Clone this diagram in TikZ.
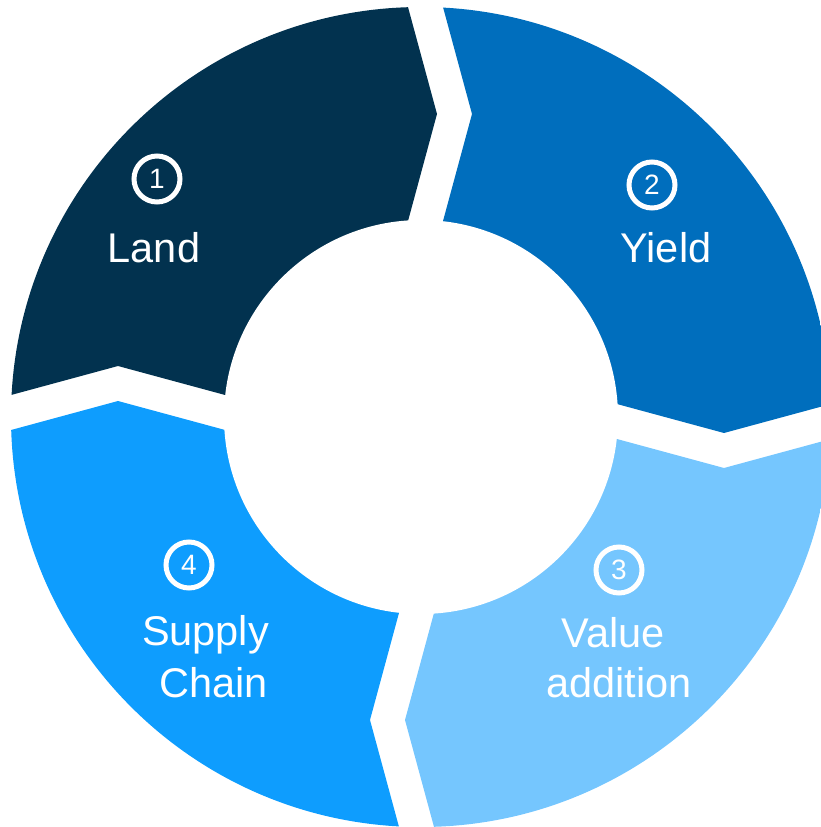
\documentclass[tikz,border=0pt]{standalone}
\usepackage{fontspec}
\setmainfont{Liberation Sans}
\definecolor{cLand}{HTML}{02324F}
\definecolor{cYield}{HTML}{006EBD}
\definecolor{cValue}{HTML}{75C6FE}
\definecolor{cSupply}{HTML}{0E9DFE}
\tikzset{
  numring/.style={circle,draw=white,line width=5pt,minimum size=46pt,inner sep=0pt,
    text=white,font=\fontsize{28}{32}\selectfont},
  lbl/.style={anchor=base,text=white,inner sep=0pt,font=\fontsize{41.5}{48}\selectfont}
}
\begin{document}
\begin{tikzpicture}[x=1pt,y=1pt]
\useasboundingbox (-421,-410) rectangle (399,417);
\begin{scope}
  \clip (0,0) circle (410);
  \foreach \ang/\col in {0/cYield,-90/cValue,-180/cSupply,90/cLand}{
    \fill[\col,rotate=\ang] (0,0) -- (20.4,190) -- (51,303) -- (5.7,470) -- (470,470)
      -- (470,29.3) -- (303,-16) -- (190,14.6) -- cycle;
  }
\end{scope}
\fill[white] (0,0) circle (197);
% labels
\node[numring] (n1) at (-264,238) {1};
\node[lbl] (land) at (-267,154) {Land};
\node[numring] (n2) at (231,232) {2};
\node[lbl] (yield) at (245,154) {Yield};
\node[numring] (n3) at (198,-153) {3};
\node[lbl] (value1) at (192,-230) {Value};
\node[lbl] (value2) at (198,-280) {addition};
\node[numring] (n4) at (-232,-148) {4};
\node[lbl] (supply1) at (-215.5,-228) {Supply};
\node[lbl] (supply2) at (-207.5,-280) {Chain};
\end{tikzpicture}
\end{document}
